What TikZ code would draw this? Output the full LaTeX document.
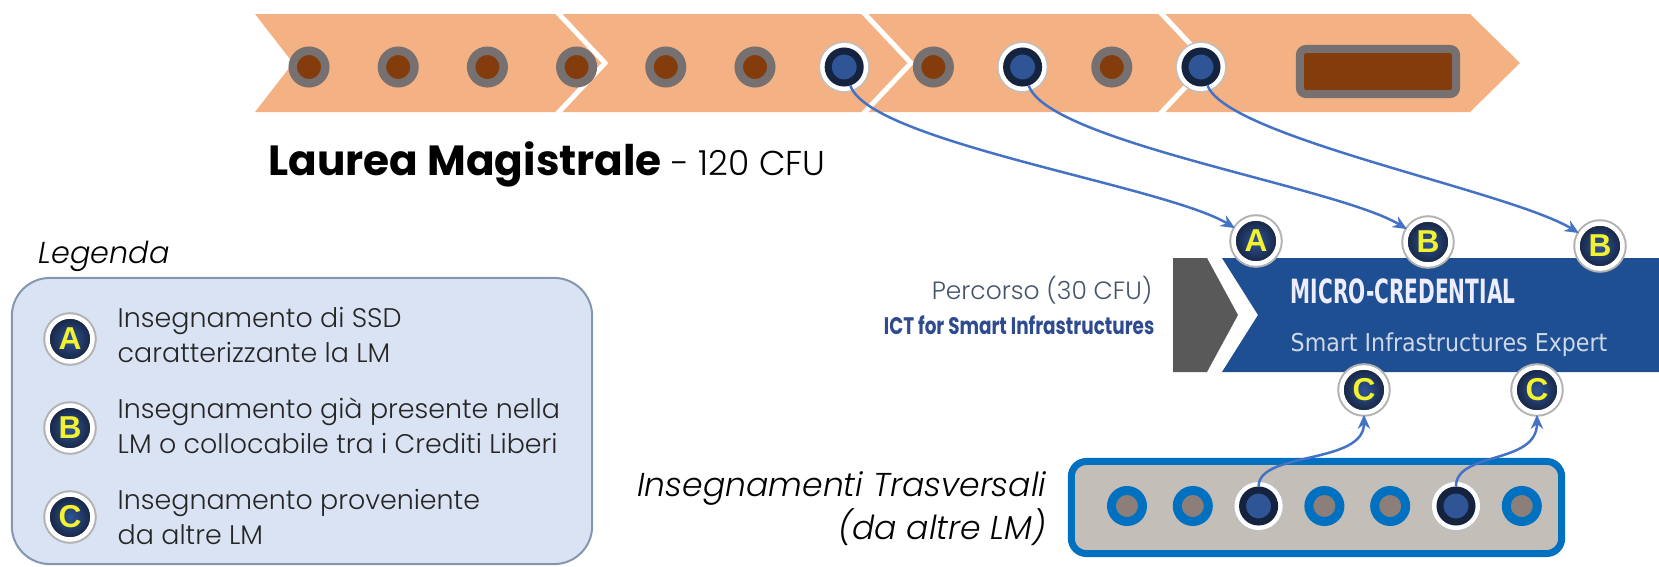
\documentclass[tikz,border=0pt]{standalone}
\usepackage{fontspec}
\setmainfont{Poppins}
\newfontfamily\lightfont{Poppins}[UprightFont=* Light, ItalicFont=* Light Italic]
\newfontfamily\narrowfont{Poppins}[FakeStretch=0.77]
\newfontfamily\condfont{DejaVu Sans Condensed}
\newfontfamily\mcfont{DejaVu Sans Condensed}[FakeStretch=0.67]
\newfontfamily\badgefont{Liberation Sans}
\usetikzlibrary{arrows.meta}

\definecolor{bandorange}{HTML}{F4B183}
\definecolor{dotgray}{HTML}{767070}
\definecolor{dotbrown}{HTML}{843C0C}
\definecolor{dotnavy}{HTML}{16233F}
\definecolor{dotblue}{HTML}{2F5597}
\definecolor{linkblue}{HTML}{4472C4}
\definecolor{bannerblue}{HTML}{1E4F93}
\definecolor{chevgray}{HTML}{595959}
\definecolor{legfill}{HTML}{DAE3F3}
\definecolor{legborder}{HTML}{8497B0}
\definecolor{boxblue}{HTML}{0070C0}
\definecolor{boxfill}{HTML}{C4BEB9}
\definecolor{boxinner}{HTML}{8C7F7A}
\definecolor{percgray}{HTML}{44546A}
\definecolor{ictblue}{HTML}{2F4B8F}
\definecolor{letteryellow}{HTML}{F2F230}

\begin{document}
\begin{tikzpicture}[
			x=0.01cm, y=-0.01cm,
			every node/.style={inner sep=0pt},
			graydot/.style={circle, minimum size=0.325cm, fill=dotbrown, draw=dotgray, line width=0.085cm},
			bluedot/.style={circle, minimum size=0.32cm, fill=dotblue, draw=dotnavy, line width=0.07cm,
				preaction={draw=black!25, line width=0.19cm}, preaction={draw=white, line width=0.16cm}},
			boxdot/.style={circle, minimum size=0.31cm, fill=boxinner, draw=boxblue, line width=0.09cm},
			badge/.style={circle, minimum size=0.45cm, inner color=dotblue, outer color=dotnavy,
				draw=white, line width=0.045cm, preaction={draw=black!30, line width=0.085cm},
				text=letteryellow, font=\badgefont\bfseries\fontsize{9}{9}\selectfont},
			legtext/.style={anchor=west, align=left, text=black!85, font=\lightfont\fontsize{7.65}{10}\selectfont},
			link/.style={-{Stealth[length=4pt, width=3.5pt]}, linkblue, line width=0.025cm}
		]
		\useasboundingbox (0,0) rectangle (1659,566);

		% percorso della laurea magistrale
		\fill[bandorange] (255,14) -- (1470,14) -- (1520,63) -- (1470,112) -- (255,112) -- (293,63) -- cycle;
		\foreach \sx in {557,863,1160}
			\draw[white, line width=0.05cm] (\sx,12) -- (\sx+48,63) -- (\sx,114);
		\foreach \i/\s in {1/graydot,2/graydot,3/graydot,4/graydot,5/graydot,6/graydot,
				7/bluedot,8/graydot,9/bluedot,10/graydot,11/bluedot}
			\node[\s] (c\i) at ({309+89.2*(\i-1)},67) {};
		\node (thesis) [rectangle, rounded corners=0.06cm, minimum width=1.56cm, minimum height=0.45cm,
			fill=dotbrown, draw=dotgray, line width=0.08cm] at (1378,71.5) {};
		\node (lmtitle) [anchor=base west] at (268,175)
			{\fontsize{12}{15}\selectfont\bfseries Laurea Magistrale\lightfont\mdseries\fontsize{9.8}{11}\selectfont\ - 120 CFU};

		% legenda
		\node (legtitle) [anchor=base west, font=\lightfont\itshape\fontsize{8.6}{10}\selectfont] at (38,263) {Legenda};
		\node (legbox) [rectangle, rounded corners=0.38cm, minimum width=5.8cm, minimum height=2.86cm,
			fill=legfill, draw=legborder, line width=0.02cm] at (302,421) {};
		\node (legA) [badge] at (70,339) {A};
		\node (legB) [badge] at (70,428) {B};
		\node (legC) [badge] at (70,517) {C};
		\node (txtA) [legtext] at (117,335) {Insegnamento di SSD\\caratterizzante la LM};
		\node (txtB) [legtext] at (117,426) {Insegnamento già presente nella\\LM o collocabile tra i Crediti Liberi};
		\node (txtC) [legtext] at (117,517) {Insegnamento proveniente\\da altre LM};

		% micro-credential
		\node (perc) [anchor=base east, text=percgray, font=\lightfont\fontsize{7.1}{8}\selectfont] at (1153,299) {Percorso (30 CFU)};
		\node (ict) [anchor=base east, text=ictblue, font=\narrowfont\bfseries\fontsize{6.8}{8}\selectfont] at (1155,334)
			{ICT for Smart Infrastructures};
		\fill[chevgray] (1173,258) -- (1207,258) -- (1238,315) -- (1207,372) -- (1173,372) -- cycle;
		\fill[bannerblue] (1222,258) -- (1659,258) -- (1659,372) -- (1222,372) -- (1258,315) -- cycle;
		\node (mctitle) [anchor=base west, text=white!93!blue, font=\mcfont\bfseries\fontsize{9.5}{10}\selectfont]
			at (1290,303) {MICRO-CREDENTIAL};
		\node (mcsub) [anchor=base west, text=white!78!bannerblue, font=\condfont\fontsize{7}{8}\selectfont]
			at (1290,351) {Smart Infrastructures Expert};
		\node (bA) [badge] at (1256,241) {A};
		\node (bB1) [badge] at (1428,242) {B};
		\node (bB2) [badge] at (1600,246) {B};
		\node (bC1) [badge] at (1364,390) {C};
		\node (bC2) [badge] at (1537,390) {C};

		% insegnamenti trasversali
		\node (trasv) [anchor=base east, font=\lightfont\itshape\fontsize{9.4}{12}\selectfont] at (1047,496)
			{Insegnamenti Trasversali};
		\node (trasv2) [anchor=base east, font=\lightfont\itshape\fontsize{9.4}{12}\selectfont] at (1047,539) {(da altre LM)};
		\node (trbox) [rectangle, rounded corners=0.15cm, minimum width=4.90cm, minimum height=0.92cm,
			fill=boxfill, draw=boxblue, line width=0.07cm] at (1316.5,507.5) {};
		\foreach \i/\s in {1/boxdot,2/boxdot,3/bluedot,4/boxdot,5/boxdot,6/bluedot,7/boxdot}
			\node[\s] (t\i) at ({1127+65.8*(\i-1)},506) {};

		% arrows
		\draw[link] (c7) .. controls +(25,75) and +(-90,-55) .. (bA);
		\draw[link] (c9) .. controls +(25,75) and +(-90,-55) .. (bB1);
		\draw[link] (c11) .. controls +(25,70) and +(-90,-55) .. (bB2);
		\draw[link] (t3) .. controls +(0,-55) and +(0,75) .. (bC1);
		\draw[link] (t6) .. controls +(0,-55) and +(0,75) .. (bC2);
	\end{tikzpicture}
\end{document}
